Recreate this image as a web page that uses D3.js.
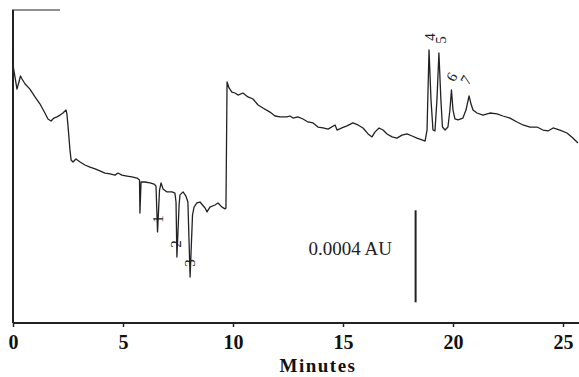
<!DOCTYPE html>
<html>
<head>
<meta charset="utf-8">
<script src="https://cdn.jsdelivr.net/npm/d3@7"></script>
<style>
html,body{margin:0;padding:0;background:#fff;}
svg{display:block;}
</style>
</head>
<body>
<svg id="chart" width="579" height="377"></svg>
<script>
// ---- data (time in minutes, absorbance in 1e-4 AU) ----
const times = [0,0.02,0.09,0.18,0.27,0.34,0.41,0.55,0.77,1.00,1.23,1.45,1.59,1.73,1.86,2.00,2.14,2.27,2.41,2.45,2.50,2.59,2.64,2.73,2.86,3.05,3.27,3.50,3.73,3.95,4.18,4.41,4.64,4.77,4.95,5.18,5.41,5.64,5.75,5.77,5.82,6.00,6.23,6.41,6.50,6.57,6.66,6.73,6.82,7.00,7.23,7.36,7.41,7.45,7.55,7.59,7.73,7.86,7.95,8.05,8.16,8.23,8.36,8.50,8.73,8.82,8.95,9.18,9.32,9.50,9.64,9.68,9.73,9.82,9.95,10.09,10.23,10.45,10.68,10.91,11.14,11.36,11.68,11.91,12.14,12.45,12.59,12.73,12.95,13.18,13.41,13.64,13.86,14.09,14.32,14.64,14.73,14.95,15.18,15.45,15.68,15.91,16.14,16.32,16.45,16.64,16.82,17.00,17.23,17.45,17.68,17.91,18.14,18.36,18.59,18.73,18.82,18.91,19.00,19.09,19.18,19.27,19.36,19.45,19.52,19.64,19.77,19.86,19.93,20.00,20.09,20.23,20.45,20.59,20.73,20.82,20.91,21.09,21.36,21.68,22.00,22.27,22.59,22.91,23.18,23.50,23.82,24.09,24.32,24.55,24.86,25.18,25.45,25.68];
const signal = [11.87,11.09,10.70,10.17,10.48,10.74,10.61,10.39,10.17,9.83,9.52,9.13,8.87,8.78,8.91,8.96,9.04,9.13,9.26,9.09,8.57,7.52,7.09,7.00,7.13,7.00,6.87,6.78,6.70,6.61,6.52,6.48,6.43,6.52,6.43,6.39,6.35,6.30,6.22,4.78,6.13,6.13,6.09,6.04,5.96,3.96,5.78,6.09,5.83,5.70,5.70,5.65,5.26,2.87,5.13,5.57,5.70,5.52,5.26,2.00,4.70,5.04,5.22,5.26,5.00,4.83,5.04,5.13,5.22,5.04,4.96,5.00,10.48,10.22,10.04,10.00,9.91,10.00,9.83,9.74,9.48,9.35,9.17,9.00,8.96,8.96,9.00,8.91,8.96,8.87,8.74,8.70,8.52,8.48,8.43,8.61,8.39,8.48,8.57,8.70,8.61,8.48,8.22,8.09,8.30,8.48,8.39,8.22,8.09,8.04,8.17,8.22,8.13,8.04,7.96,7.91,8.39,11.87,9.70,8.39,8.35,9.70,11.74,9.70,8.52,8.39,8.52,9.26,10.13,9.26,8.87,8.83,8.91,9.26,9.87,9.52,9.26,9.13,9.04,9.13,9.09,9.00,8.91,8.74,8.61,8.52,8.52,8.39,8.35,8.48,8.39,8.26,8.04,7.83];
const tickValues = [0,5,10,15,20,25];
const tickLabels = ["0","5","10","15","20","25"];
const xTitle = "Minutes";
const peakLabels = ["1","2","3","4","5","6","7"];
const peakLabelTimes = [6.59,7.41,8.05,18.95,19.45,19.95,20.59];
const peakLabelValues = [4.52,3.43,2.61,12.43,12.30,10.70,10.57];
const peakLabelAngles = [-90,-90,-90,-90,-90,-60,-60];
const scaleBarTime = 18.3;
const scaleBarRange = [0.9, 4.9];
const scaleBarText = "0.0004 AU";

// ---- drawing ----
const svg = d3.select("#chart");
const x = d3.scaleLinear().domain([0,25]).range([13,563]);
const y = d3.scaleLinear().domain([0,14]).range([323,1]);
const ink = "#222";

// frame: left axis and short top corner
svg.append("line").attr("x1",13).attr("x2",13).attr("y1",10).attr("y2",y(0))
  .attr("stroke",ink).attr("stroke-width",2);
svg.append("line").attr("x1",12).attr("x2",60).attr("y1",10).attr("y2",10)
  .attr("stroke",ink).attr("stroke-width",1.2);

// bottom axis
const xAxis = d3.axisBottom(x).tickValues(tickValues)
  .tickFormat((d,i)=>tickLabels[i]).tickSize(4).tickPadding(8);
const gx = svg.append("g").attr("transform",`translate(0,${y(0)})`).call(xAxis);
gx.select(".domain").attr("d",`M13,0H579`).attr("stroke",ink).attr("stroke-width",2);
gx.selectAll(".tick line").attr("stroke",ink).attr("stroke-width",1.5);
gx.selectAll(".tick text").attr("fill","#111")
  .style("font-family","'Liberation Serif','Times New Roman',serif")
  .style("font-weight","bold").style("font-size","20px");

svg.append("text").attr("x",318).attr("y",372).attr("text-anchor","middle")
  .style("font-family","'Liberation Serif','Times New Roman',serif")
  .style("font-weight","bold").style("font-size","19px").style("letter-spacing","1.5px")
  .attr("fill","#111").text(xTitle);

// trace
const pts = times.map((t,i)=>[t,signal[i]]);
svg.append("path").datum(pts)
  .attr("d", d3.line().x(d=>x(d[0])).y(d=>y(d[1])))
  .attr("fill","none").attr("stroke",ink).attr("stroke-width",1.3)
  .attr("stroke-linejoin","round");

// peak labels
svg.selectAll(".plab").data(peakLabels).enter().append("text")
  .attr("class","plab")
  .attr("transform",(d,i)=>`translate(${x(peakLabelTimes[i])},${y(peakLabelValues[i])}) rotate(${peakLabelAngles[i]})`)
  .attr("text-anchor","middle").attr("dominant-baseline","central")
  .style("font-family","'Liberation Serif','Times New Roman',serif")
  .style("font-size","15px").attr("fill","#222").text(d=>d);

// scale bar
svg.append("line").attr("x1",x(scaleBarTime)).attr("x2",x(scaleBarTime))
  .attr("y1",y(scaleBarRange[0])).attr("y2",y(scaleBarRange[1]))
  .attr("stroke",ink).attr("stroke-width",2);
svg.append("text").attr("x",392).attr("y",255).attr("text-anchor","end")
  .style("font-family","'Liberation Serif','Times New Roman',serif")
  .style("font-size","19px").attr("fill","#222").text(scaleBarText);
</script>
</body>
</html>
